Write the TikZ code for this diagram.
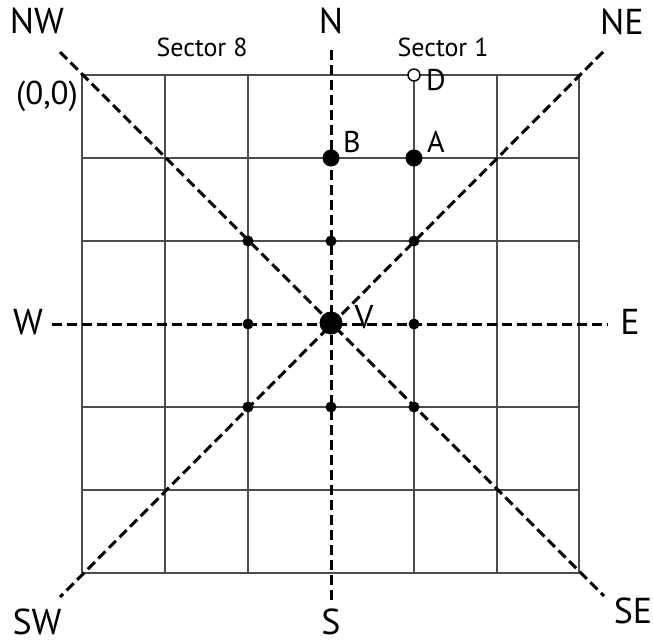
\documentclass[tikz,border=0pt]{standalone}
\usepackage{fontspec}
\setmainfont{PT Sans}
\begin{document}
\begin{tikzpicture}[x=1pt,y=-1pt,
  gridline/.style={draw=black!70,line width=1.4pt},
  axis/.style={draw=black,line width=3pt,dash pattern=on 10pt off 5pt},
  smalldot/.style={circle,fill=black,inner sep=0pt,minimum size=11pt},
  bigdot/.style={circle,fill=black,inner sep=0pt,minimum size=17pt},
  centerdot/.style={circle,fill=black,inner sep=0pt,minimum size=23pt},
  opendot/.style={circle,draw=black,fill=white,line width=1.4pt,inner sep=0pt,minimum size=12pt},
  dirlabel/.style={font=\fontsize{36}{38}\selectfont,inner sep=0pt},
  ptlabel/.style={font=\fontsize{30}{32}\selectfont,inner sep=0pt},
  seclabel/.style={font=\fontsize{26}{28}\selectfont,inner sep=0pt}]
\useasboundingbox (0,0) rectangle (653,643);
% grid
\foreach \x in {82,165,248,414,497,579} \draw[gridline] (\x,75) -- (\x,573);
\foreach \y in {75,158,241,407,490,573} \draw[gridline] (82,\y) -- (579,\y);
% axis end points
\coordinate (nEnd) at (331,50);
\coordinate (sEnd) at (331,600);
\coordinate (wEnd) at (52,324);
\coordinate (eEnd) at (608,324);
\coordinate (nwEnd) at (60,52);
\coordinate (seEnd) at (604,596);
\coordinate (neEnd) at (603,52);
\coordinate (swEnd) at (60,597);
\draw[axis] (nEnd) -- (sEnd);
\draw[axis] (wEnd) -- (eEnd);
\draw[axis] (nwEnd) -- (seEnd);
\draw[axis] (neEnd) -- (swEnd);
% dots
\node[smalldot] (p1) at (248,241) {};
\node[smalldot] (p2) at (331,241) {};
\node[smalldot] (p3) at (414,241) {};
\node[smalldot] (p4) at (248,324) {};
\node[smalldot] (p5) at (414,324) {};
\node[smalldot] (p6) at (248,407) {};
\node[smalldot] (p7) at (331,407) {};
\node[smalldot] (p8) at (414,407) {};
\node[bigdot] (B) at (331,158) {};
\node[bigdot] (A) at (414,158) {};
\node[centerdot] (V) at (331,323) {};
\node[opendot] (D) at (414,75) {};
% labels
\node[dirlabel] (lNW) at (37,21) {NW};
\node[dirlabel] (lN) at (331,21) {N};
\node[dirlabel] (lNE) at (622,22) {NE};
\node[dirlabel] (lW) at (28,322) {W};
\node[dirlabel] (lE) at (630,322) {E};
\node[dirlabel] (lSW) at (37,622) {SW};
\node[dirlabel] (lS) at (331,622) {S};
\node[dirlabel] (lSE) at (633,611) {SE};
\node[seclabel] (s8) at (202,47) {Sector 8};
\node[seclabel] (s1) at (443,47) {Sector 1};
\node[font=\fontsize{33}{35}\selectfont,inner sep=0pt] (origin) at (47,96) {(0,0)};
\node[ptlabel] (lB) at (352,142) {B};
\node[ptlabel] (lA) at (436,142) {A};
\node[ptlabel] (lD) at (436,80) {D};
\node[font=\fontsize{33}{35}\selectfont,inner sep=0pt] (lV) at (364,317) {V};
\end{tikzpicture}
\end{document}
